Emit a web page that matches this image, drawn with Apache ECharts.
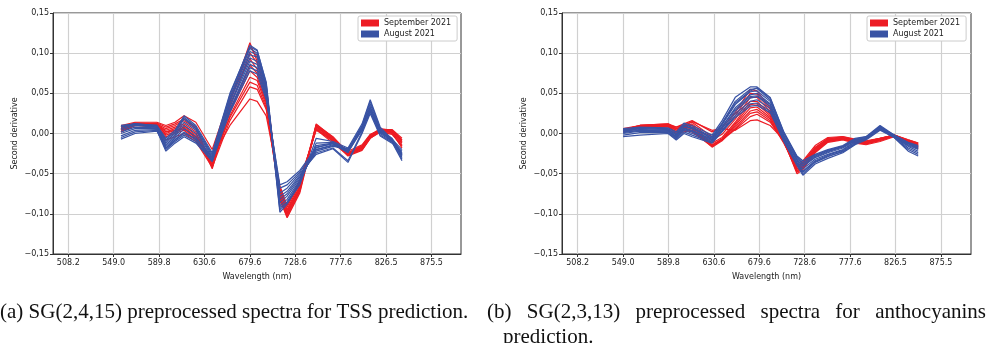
<!DOCTYPE html>
<html>
<head>
<meta charset="utf-8">
<script src="https://cdn.jsdelivr.net/npm/echarts@6/dist/echarts.min.js"></script>
<style>
html, body { margin: 0; padding: 0; background: #fff; }
#chart { width: 987px; height: 343px; }
</style>
</head>
<body>
<div id="chart"></div>
<script>
// tick labels (wavelength, nm) at evenly spaced band positions 0..8
const wlTicks = ["508.2", "549.0", "589.8", "630.6", "679.6", "728.6", "777.6", "826.5", "875.5"];
const tickPos = [0, 1, 2, 3, 4, 5, 6, 7, 8];

// (a) SG(2,4,15) - band positions of the vertices
const xA = [1.16, 1.47, 1.95, 2.15, 2.35, 2.55, 2.81, 3.17, 3.56, 4.00, 4.16, 4.36, 4.66, 4.82, 5.10, 5.46, 5.83, 6.16, 6.47, 6.65, 6.87, 7.13, 7.35];
// September 2021
const sepA = [
  [0.006, 0.012, 0.013, 0.008, 0.012, 0.018, 0.008, -0.040, 0.040, 0.113, 0.090, 0.050, -0.080, -0.104, -0.072, 0.012, -0.005, -0.026, -0.018, -0.004, 0.004, 0.003, -0.010],
  [0.008, 0.013, 0.012, 0.006, 0.010, 0.016, 0.006, -0.042, 0.038, 0.108, 0.095, 0.055, -0.078, -0.102, -0.070, 0.010, -0.006, -0.025, -0.017, -0.003, 0.005, 0.004, -0.008],
  [0.004, 0.011, 0.011, 0.004, 0.008, 0.012, 0.002, -0.044, 0.032, 0.100, 0.088, 0.048, -0.082, -0.105, -0.074, 0.009, -0.008, -0.027, -0.020, -0.005, 0.004, 0.002, -0.014],
  [0.010, 0.014, 0.014, 0.010, 0.014, 0.022, 0.014, -0.020, 0.045, 0.093, 0.080, 0.045, -0.072, -0.096, -0.066, 0.011, -0.004, -0.024, -0.016, -0.002, 0.005, 0.005, -0.006],
  [0.002, 0.010, 0.010, 0.000, 0.004, 0.008, -0.004, -0.038, 0.028, 0.085, 0.075, 0.040, -0.085, -0.100, -0.068, 0.008, -0.007, -0.026, -0.019, -0.004, 0.003, 0.002, -0.012],
  [0.006, 0.012, 0.012, 0.002, 0.006, 0.010, -0.002, -0.036, 0.026, 0.078, 0.070, 0.038, -0.075, -0.098, -0.065, 0.007, -0.009, -0.028, -0.021, -0.006, 0.002, 0.000, -0.016],
  [0.004, 0.011, 0.010, -0.004, 0.000, 0.004, -0.008, -0.040, 0.022, 0.070, 0.066, 0.035, -0.070, -0.095, -0.062, 0.006, -0.010, -0.025, -0.018, -0.005, 0.003, 0.001, -0.018],
  [0.008, 0.013, 0.012, -0.002, 0.002, 0.006, -0.006, -0.034, 0.020, 0.064, 0.060, 0.032, -0.078, -0.100, -0.070, 0.010, -0.006, -0.024, -0.015, -0.002, 0.006, 0.004, -0.010],
  [0.002, 0.010, 0.008, -0.008, -0.004, 0.000, -0.010, -0.042, 0.016, 0.058, 0.055, 0.030, -0.068, -0.092, -0.060, 0.005, -0.012, -0.027, -0.020, -0.006, 0.002, -0.001, -0.015],
  [0.005, 0.012, 0.011, 0.002, 0.004, 0.006, -0.004, -0.030, 0.010, 0.043, 0.040, 0.022, -0.065, -0.090, -0.058, 0.004, -0.008, -0.022, -0.014, -0.001, 0.004, 0.003, -0.008]
];
// August 2021
const augA = [
  [0.010, 0.012, 0.010, -0.008, 0.002, 0.020, 0.008, -0.026, 0.048, 0.110, 0.104, 0.062, -0.098, -0.088, -0.062, -0.012, -0.011, -0.020, 0.010, 0.040, 0.006, -0.008, -0.030],
  [0.008, 0.012, 0.009, -0.010, 0.000, 0.018, 0.006, -0.028, 0.045, 0.106, 0.100, 0.060, -0.095, -0.085, -0.060, -0.015, -0.012, -0.022, 0.008, 0.037, 0.004, -0.009, -0.028],
  [0.006, 0.011, 0.008, -0.012, -0.002, 0.014, 0.004, -0.030, 0.042, 0.102, 0.098, 0.058, -0.090, -0.082, -0.058, -0.017, -0.013, -0.024, 0.006, 0.034, 0.002, -0.008, -0.026],
  [0.004, 0.010, 0.008, -0.014, -0.004, 0.010, 0.000, -0.032, 0.040, 0.098, 0.095, 0.055, -0.086, -0.078, -0.056, -0.020, -0.015, -0.021, 0.008, 0.032, 0.003, -0.010, -0.032],
  [0.002, 0.008, 0.007, -0.016, -0.006, 0.006, -0.004, -0.034, 0.036, 0.094, 0.090, 0.052, -0.082, -0.075, -0.054, -0.022, -0.016, -0.019, 0.004, 0.030, 0.000, -0.010, -0.025],
  [0.000, 0.006, 0.006, -0.018, -0.008, 0.002, -0.008, -0.033, 0.034, 0.090, 0.086, 0.050, -0.078, -0.072, -0.052, -0.024, -0.018, -0.034, 0.002, 0.028, -0.002, -0.011, -0.034],
  [-0.003, 0.004, 0.005, -0.020, -0.010, -0.002, -0.010, -0.035, 0.030, 0.086, 0.082, 0.048, -0.074, -0.068, -0.050, -0.026, -0.019, -0.036, 0.000, 0.025, -0.003, -0.012, -0.022],
  [-0.005, 0.002, 0.004, -0.022, -0.012, -0.004, -0.012, -0.034, 0.028, 0.082, 0.078, 0.045, -0.068, -0.064, -0.048, -0.020, -0.014, -0.023, 0.004, 0.027, 0.001, -0.007, -0.020],
  [-0.007, 0.000, 0.003, -0.018, -0.008, 0.000, -0.006, -0.030, 0.026, 0.078, 0.074, 0.042, -0.064, -0.060, -0.046, -0.018, -0.012, -0.020, 0.006, 0.030, 0.004, -0.006, -0.024],
  [0.009, 0.012, 0.010, -0.006, 0.004, 0.022, 0.010, -0.024, 0.050, 0.108, 0.103, 0.064, -0.092, -0.086, -0.064, -0.006, -0.010, -0.018, 0.012, 0.042, 0.008, -0.007, -0.027]
];

// (b) SG(2,3,13)
const xB = [1.00, 1.37, 1.99, 2.17, 2.34, 2.52, 2.96, 3.18, 3.47, 3.80, 3.95, 4.24, 4.54, 4.83, 4.96, 5.23, 5.51, 5.84, 6.11, 6.35, 6.66, 6.97, 7.28, 7.50];
const sepB = [
  [0.004, 0.009, 0.011, 0.008, 0.012, 0.016, 0.002, 0.007, 0.026, 0.055, 0.053, 0.032, -0.004, -0.040, -0.036, -0.018, -0.006, -0.005, -0.009, -0.011, -0.007, -0.002, -0.009, -0.014],
  [0.005, 0.010, 0.012, 0.006, 0.010, 0.014, -0.004, 0.003, 0.022, 0.050, 0.049, 0.030, -0.006, -0.044, -0.040, -0.020, -0.008, -0.006, -0.010, -0.012, -0.008, -0.003, -0.010, -0.016],
  [0.003, 0.008, 0.010, 0.004, 0.008, 0.012, -0.008, -0.001, 0.018, 0.045, 0.045, 0.027, -0.007, -0.046, -0.042, -0.021, -0.009, -0.007, -0.011, -0.013, -0.009, -0.003, -0.011, -0.017],
  [0.006, 0.010, 0.012, 0.008, 0.010, 0.010, -0.012, -0.005, 0.014, 0.040, 0.040, 0.024, -0.008, -0.048, -0.044, -0.023, -0.010, -0.007, -0.011, -0.013, -0.008, -0.002, -0.010, -0.015],
  [0.002, 0.007, 0.009, 0.002, 0.004, 0.006, -0.016, -0.007, 0.012, 0.036, 0.037, 0.022, -0.009, -0.050, -0.045, -0.024, -0.011, -0.008, -0.012, -0.014, -0.010, -0.004, -0.012, -0.019],
  [0.004, 0.009, 0.010, 0.004, 0.006, 0.008, -0.014, -0.007, 0.010, 0.032, 0.033, 0.020, -0.010, -0.048, -0.043, -0.022, -0.010, -0.006, -0.010, -0.012, -0.008, -0.003, -0.011, -0.018],
  [0.003, 0.008, 0.009, 0.000, 0.002, 0.004, -0.017, -0.009, 0.008, 0.028, 0.030, 0.018, -0.011, -0.046, -0.041, -0.020, -0.009, -0.006, -0.009, -0.011, -0.007, -0.002, -0.009, -0.013],
  [0.005, 0.010, 0.011, 0.006, 0.008, 0.006, -0.015, -0.007, 0.006, 0.025, 0.027, 0.016, -0.012, -0.044, -0.038, -0.019, -0.008, -0.005, -0.008, -0.010, -0.006, -0.002, -0.008, -0.012],
  [0.002, 0.007, 0.008, 0.002, 0.004, 0.002, -0.016, -0.008, 0.005, 0.021, 0.024, 0.014, -0.010, -0.042, -0.036, -0.017, -0.007, -0.004, -0.008, -0.010, -0.006, -0.002, -0.009, -0.014],
  [0.004, 0.009, 0.010, 0.006, 0.010, 0.015, 0.004, 0.006, 0.004, 0.016, 0.017, 0.010, -0.008, -0.038, -0.034, -0.015, -0.005, -0.004, -0.007, -0.009, -0.006, -0.002, -0.008, -0.012]
];
const augB = [
  [0.006, 0.008, 0.007, 0.002, 0.013, 0.010, -0.002, 0.016, 0.045, 0.058, 0.058, 0.045, 0.002, -0.028, -0.034, -0.026, -0.020, -0.015, -0.006, -0.004, 0.010, -0.002, -0.012, -0.016],
  [0.005, 0.007, 0.006, 0.000, 0.011, 0.008, -0.004, 0.013, 0.040, 0.055, 0.056, 0.042, 0.000, -0.030, -0.038, -0.028, -0.022, -0.017, -0.008, -0.005, 0.009, -0.003, -0.013, -0.018],
  [0.004, 0.006, 0.005, -0.002, 0.009, 0.006, -0.006, 0.011, 0.036, 0.052, 0.053, 0.040, -0.002, -0.032, -0.041, -0.030, -0.024, -0.018, -0.009, -0.006, 0.008, -0.003, -0.014, -0.019],
  [0.003, 0.005, 0.004, -0.004, 0.007, 0.004, -0.008, 0.008, 0.032, 0.048, 0.050, 0.037, -0.004, -0.034, -0.044, -0.032, -0.026, -0.020, -0.010, -0.006, 0.007, -0.004, -0.015, -0.020],
  [0.002, 0.004, 0.003, -0.005, 0.005, 0.002, -0.009, 0.006, 0.028, 0.044, 0.046, 0.034, -0.006, -0.036, -0.047, -0.034, -0.027, -0.021, -0.011, -0.007, 0.006, -0.004, -0.016, -0.022],
  [0.000, 0.003, 0.002, -0.006, 0.004, 0.000, -0.010, 0.004, 0.025, 0.040, 0.042, 0.031, -0.008, -0.038, -0.050, -0.036, -0.029, -0.022, -0.012, -0.007, 0.005, -0.005, -0.020, -0.026],
  [-0.002, 0.001, 0.001, -0.007, 0.002, -0.002, -0.011, 0.003, 0.022, 0.037, 0.038, 0.028, -0.010, -0.040, -0.052, -0.038, -0.031, -0.024, -0.014, -0.008, 0.004, -0.005, -0.022, -0.028],
  [-0.004, -0.002, 0.000, -0.008, 0.000, -0.004, -0.012, 0.002, 0.020, 0.034, 0.035, 0.026, -0.009, -0.038, -0.048, -0.035, -0.028, -0.023, -0.013, -0.006, 0.005, -0.004, -0.018, -0.024],
  [0.001, 0.004, 0.003, -0.003, 0.006, 0.003, -0.007, 0.009, 0.030, 0.046, 0.047, 0.036, -0.005, -0.033, -0.040, -0.029, -0.023, -0.016, -0.007, -0.004, 0.007, -0.002, -0.011, -0.015],
  [0.004, 0.006, 0.005, -0.001, 0.010, 0.007, -0.005, 0.012, 0.038, 0.053, 0.057, 0.044, 0.001, -0.029, -0.036, -0.027, -0.021, -0.016, -0.008, -0.005, 0.008, -0.002, -0.012, -0.017]
];

const captionA = "(a) SG(2,4,15) preprocessed spectra for TSS prediction.";
const captionB1 = ["(b)", "SG(2,3,13)", "preprocessed", "spectra", "for", "anthocyanins"];
const captionB2 = "prediction.";

const RED = "#ed1c24";
const BLUE = "#3953a4";
const FONT = "DejaVu Sans";
const SERIF = "Liberation Serif";
const CAP_SIZE = 21;

const chart = echarts.init(document.getElementById("chart"), null, { renderer: "canvas" });

//一组曲线
function makeLines(xs, group, name, color, gi) {
  return group.map(function (ys) {
    return {
      type: "line",
      name: name,
      xAxisIndex: gi,
      yAxisIndex: gi,
      data: ys.map(function (y, i) { return [xs[i], y]; }),
      symbol: "none",
      silent: true,
      animation: false,
      color: color,
      lineStyle: { color: color, width: 1.2 }
    };
  });
}

function yLabel(v) {
  const s = Math.abs(v).toFixed(2).replace(".", ",");
  return v < -1e-9 ? "\u2212" + s : s;
}

function xAxis(gi, min, max) {
  return {
    type: "value",
    gridIndex: gi,
    min: min,
    max: max,
    name: "Wavelength (nm)",
    nameLocation: "middle",
    nameGap: 19,
    nameTextStyle: { fontSize: 8, color: "#222", fontFamily: FONT },
    axisLine: { show: true, onZero: false, lineStyle: { color: "#333", width: 1 } },
    axisTick: { show: true, length: 3, customValues: tickPos, lineStyle: { color: "#333" } },
    axisLabel: {
      customValues: tickPos,
      formatter: function (v) { return wlTicks[Math.round(v)]; },
      fontSize: 8, color: "#222", fontFamily: FONT, margin: 5
    },
    splitLine: { show: true, lineStyle: { color: "#d0d0d0", width: 1.2 } }
  };
}

function yAxis(gi) {
  return {
    type: "value",
    gridIndex: gi,
    min: -0.15,
    max: 0.15,
    interval: 0.05,
    name: "Second derivative",
    nameLocation: "middle",
    nameRotate: 90,
    nameGap: 34,
    nameTextStyle: { fontSize: 8, color: "#222", fontFamily: FONT },
    axisLine: { show: true, onZero: false, lineStyle: { color: "#333", width: 1 } },
    axisTick: { show: true, length: 3, lineStyle: { color: "#333" } },
    axisLabel: { formatter: yLabel, fontSize: 8, color: "#222", fontFamily: FONT, margin: 4 },
    splitLine: { show: true, lineStyle: { color: "#d0d0d0", width: 1.2 } }
  };
}

function legend(left) {
  return {
    data: ["September 2021", "August 2021"],
    orient: "vertical",
    left: left,
    top: 16,
    icon: "rect",
    itemWidth: 18,
    itemHeight: 7,
    itemGap: 3,
    padding: [3, 6, 3, 3],
    selectedMode: false,
    backgroundColor: "#fff",
    borderColor: "#cccccc",
    borderWidth: 1,
    borderRadius: 2,
    textStyle: { fontSize: 8, color: "#222", fontFamily: FONT }
  };
}

// caption (b) first line is justified across its column
function measure(text) {
  const ctx = document.createElement("canvas").getContext("2d");
  ctx.font = CAP_SIZE + "px '" + SERIF + "'";
  return ctx.measureText(text).width;
}
const bLeft = 487, bRight = 986;
const wordW = captionB1.map(measure);
const gapB = (bRight - bLeft - wordW.reduce(function (a, b) { return a + b; }, 0)) / (captionB1.length - 1);
const graphics = [{
  type: "text", x: 0, y: 312,
  style: { text: captionA, fontSize: CAP_SIZE, fontFamily: SERIF, fill: "#111", verticalAlign: "middle" }
}, {
  type: "text", x: 503, y: 337,
  style: { text: captionB2, fontSize: CAP_SIZE, fontFamily: SERIF, fill: "#111", verticalAlign: "middle" }
}];
let cx = bLeft;
captionB1.forEach(function (w, i) {
  graphics.push({
    type: "text", x: cx, y: 312,
    style: { text: w, fontSize: CAP_SIZE, fontFamily: SERIF, fill: "#111", verticalAlign: "middle" }
  });
  cx += wordW[i] + gapB;
});

const option = {
  backgroundColor: "#fff",
  animation: false,
  grid: [
    { left: 53, top: 13, width: 408, height: 241, show: true, borderColor: "#333", borderWidth: 1, backgroundColor: "transparent" },
    { left: 562, top: 13, width: 409, height: 241, show: true, borderColor: "#333", borderWidth: 1, backgroundColor: "transparent" }
  ],
  xAxis: [xAxis(0, -0.337, 8.65), xAxis(1, -0.346, 8.663)],
  yAxis: [yAxis(0), yAxis(1)],
  legend: [legend(358), legend(867)],
  graphic: graphics,
  series: [].concat(
    makeLines(xA, sepA, "September 2021", RED, 0),
    makeLines(xA, augA, "August 2021", BLUE, 0),
    makeLines(xB, sepB, "September 2021", RED, 1),
    makeLines(xB, augB, "August 2021", BLUE, 1)
  )
};
chart.setOption(option);
</script>
</body>
</html>
